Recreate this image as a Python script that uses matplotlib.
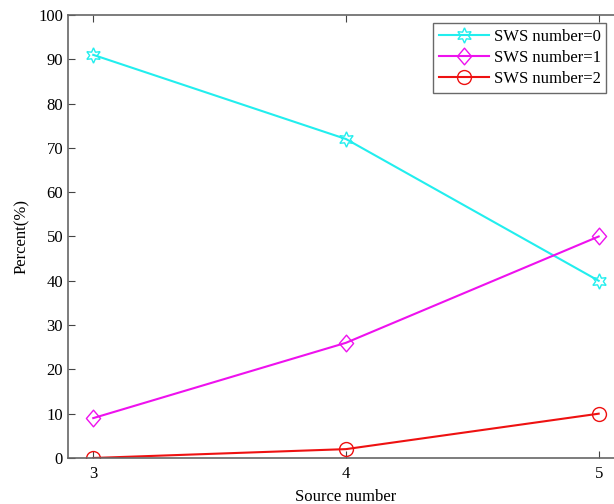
import numpy as np
import matplotlib.pyplot as plt
from matplotlib.path import Path

plt.rcParams['font.family'] = ['Liberation Serif', 'DejaVu Serif']

# data
source_number = [3, 4, 5]
sws0 = [91, 72, 40]
sws1 = [9, 26, 50]
sws2 = [0, 2, 10]

# MATLAB-like diamond, a bit taller than wide
diamond = Path([(0, 1), (0.85, 0), (0, -1), (-0.85, 0), (0, 1)],
               [Path.MOVETO, Path.LINETO, Path.LINETO, Path.LINETO, Path.CLOSEPOLY])

fig = plt.figure(figsize=(6.14, 5.04), dpi=100)
# axes runs past the right edge, like the cropped original
ax = fig.add_axes([0.1107, 0.0913, 0.9055, 0.879])

ax.plot(source_number, sws0, color='#22EEEE', marker=(6, 1, 0), markersize=11,
        markerfacecolor='none', lw=1.5, label='SWS number=0')
ax.plot(source_number, sws1, color='#EE11EE', marker=diamond, markersize=12,
        markerfacecolor='none', lw=1.5, label='SWS number=1')
ax.plot(source_number, sws2, color='#EE1111', marker='o', markersize=10,
        markerfacecolor='none', lw=1.5, label='SWS number=2')

ax.set_xlim(2.9, 5.1)
ax.set_ylim(0, 100)
ax.set_xticks(source_number)
ax.set_yticks(np.arange(0, 101, 10))
ax.tick_params(axis='both', direction='in', top=True, right=True, labelsize=12,
               length=5, color='#444444')
ax.tick_params(axis='x', pad=6)
for s in ax.spines.values():
    s.set_color('#666666')
    s.set_linewidth(1.2)

ax.set_xlabel('Source number', fontsize=12, labelpad=5)
ax.set_ylabel('Percent(%)', fontsize=12, labelpad=6)

leg = ax.legend(loc='upper left', bbox_to_anchor=(0.656, 0.982), fontsize=12,
                frameon=True, fancybox=False, edgecolor='#444444',
                borderpad=0.35, labelspacing=0.3, handlelength=3.0,
                handletextpad=0.3, borderaxespad=0)
leg.get_frame().set_linewidth(1.0)

fig.savefig('out.png', dpi=100)
